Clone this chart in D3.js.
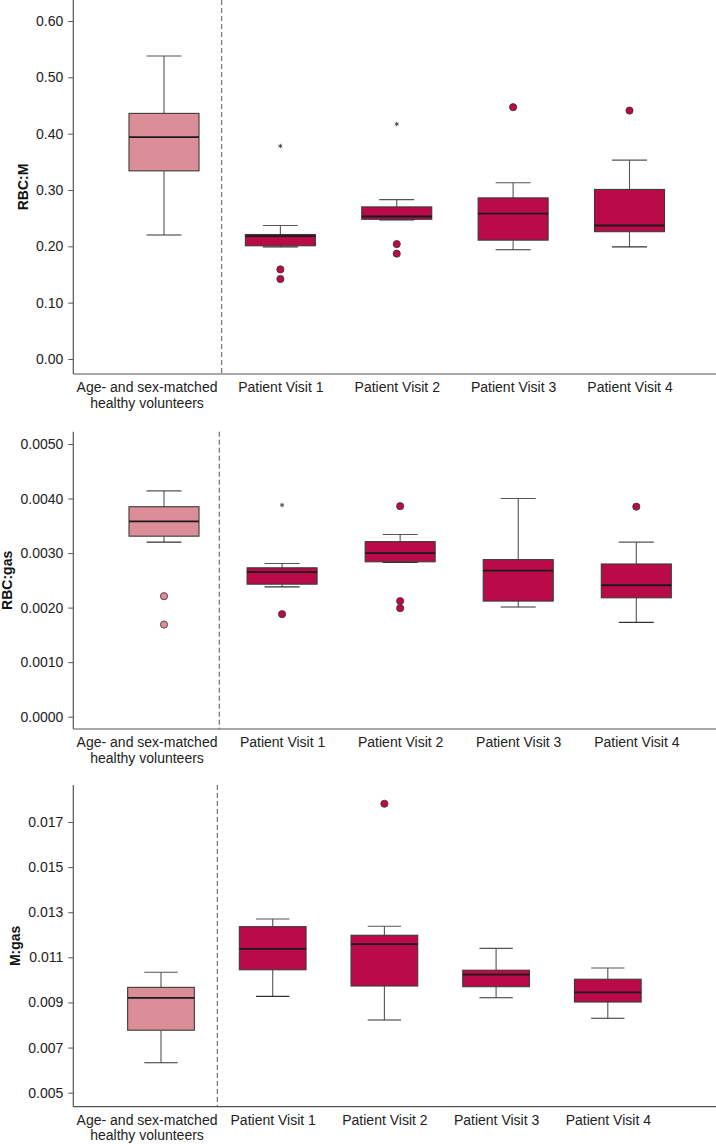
<!DOCTYPE html>
<html>
<head>
<meta charset="utf-8">
<script src="https://cdn.jsdelivr.net/npm/d3@7"></script>
<style>
  html, body { margin: 0; padding: 0; background: #fff; }
  svg { display: block; font-family: "Liberation Sans", Arial, Helvetica, sans-serif; }
</style>
</head>
<body>
<svg id="chart" width="716" height="1144"></svg>
<script>
// ---------- DATA ----------
const categories = ["Age- and sex-matched\nhealthy volunteers", "Patient Visit 1", "Patient Visit 2", "Patient Visit 3", "Patient Visit 4"];

// box stats per category: [lower whisker, Q1, median, Q3, upper whisker]
const rbcM_boxes = [
  [0.220, 0.334, 0.394, 0.436, 0.538],
  [0.199, 0.201, 0.218, 0.221, 0.237],
  [0.247, 0.248, 0.253, 0.270, 0.283],
  [0.194, 0.211, 0.258, 0.286, 0.313],
  [0.199, 0.226, 0.237, 0.301, 0.353]
];
const rbcM_outliers = [[], [0.159, 0.142], [0.204, 0.187], [0.447], [0.441]];
const rbcM_extremes = [[], [0.378], [0.417], [], []];
const rbcM_ticks = [0.00, 0.10, 0.20, 0.30, 0.40, 0.50, 0.60];

const rbcGas_boxes = [
  [0.00320, 0.00331, 0.00358, 0.00385, 0.00414],
  [0.00238, 0.00243, 0.00265, 0.00273, 0.00281],
  [0.00283, 0.00284, 0.00300, 0.00321, 0.00334],
  [0.00201, 0.00212, 0.00268, 0.00288, 0.00400],
  [0.00173, 0.00218, 0.00241, 0.00280, 0.00320]
];
const rbcGas_outliers = [[0.00221, 0.00169], [0.00188], [0.00386, 0.00212, 0.00199], [], [0.00385]];
const rbcGas_extremes = [[], [0.00388], [], [], []];
const rbcGas_ticks = [0.0000, 0.0010, 0.0020, 0.0030, 0.0040, 0.0050];

const mGas_boxes = [
  [0.00633, 0.00777, 0.00920, 0.00967, 0.01034],
  [0.00927, 0.01045, 0.01138, 0.01236, 0.01270],
  [0.00822, 0.00973, 0.01159, 0.01198, 0.01238],
  [0.00921, 0.00970, 0.01023, 0.01043, 0.01140],
  [0.00830, 0.00902, 0.00945, 0.01003, 0.01053]
];
const mGas_outliers = [[], [], [0.01781], [], []];
const mGas_extremes = [[], [], [], [], []];
const mGas_ticks = [0.005, 0.007, 0.009, 0.011, 0.013, 0.015, 0.017];

const yLabels = ["RBC:M", "RBC:gas", "M:gas"];
const tickFormats = [".2f", ".4f", ".3f"];

// ---------- STYLE / LAYOUT ----------
const colHealthy = "#DB8E98";
const colPatient = "#BA0A48";
const axisX = 73.3;
const rightX = 716;

const panels = [
  { boxes: rbcM_boxes, outliers: rbcM_outliers, extremes: rbcM_extremes, ticks: rbcM_ticks,
    label: yLabels[0], fmt: tickFormats[0],
    domain: [0, 0.6], range: [359, 21], top: 0, bottom: 374,
    xRange: [164, 629.5], dash: 221.7, boxW: 70 },
  { boxes: rbcGas_boxes, outliers: rbcGas_outliers, extremes: rbcGas_extremes, ticks: rbcGas_ticks,
    label: yLabels[1], fmt: tickFormats[1],
    domain: [0, 0.005], range: [716.7, 444], top: 431.7, bottom: 729,
    xRange: [164, 636.3], dash: 219.3, boxW: 70 },
  { boxes: mGas_boxes, outliers: mGas_outliers, extremes: mGas_extremes, ticks: mGas_ticks,
    label: yLabels[2], fmt: tickFormats[2],
    domain: [0.005, 0.017], range: [1092.7, 822], top: 785, bottom: 1106.7,
    xRange: [161, 607.8], dash: 217.3, boxW: 66.7 }
];

const svg = d3.select("#chart");

panels.forEach((p) => {
  const g = svg.append("g");
  const y = d3.scaleLinear().domain(p.domain).range(p.range);
  const x = d3.scalePoint().domain(categories).range(p.xRange);
  const color = (i) => i === 0 ? colHealthy : colPatient;

  // dashed separator
  g.append("line")
    .attr("x1", p.dash).attr("x2", p.dash)
    .attr("y1", p.top).attr("y2", p.bottom)
    .attr("stroke", "#555").attr("stroke-width", 1)
    .attr("stroke-dasharray", "5,3");

  // boxes
  categories.forEach((c, i) => {
    const [lo, q1, med, q3, hi] = p.boxes[i];
    const cx = x(c);
    const bw = p.boxW;
    const cap = bw / 2;
    const bg = g.append("g");
    // whiskers
    bg.append("line").attr("x1", cx).attr("x2", cx).attr("y1", y(hi)).attr("y2", y(q3))
      .attr("stroke", "#555").attr("stroke-width", 1.1);
    bg.append("line").attr("x1", cx).attr("x2", cx).attr("y1", y(q1)).attr("y2", y(lo))
      .attr("stroke", "#555").attr("stroke-width", 1.1);
    bg.append("line").attr("x1", cx - cap / 2).attr("x2", cx + cap / 2).attr("y1", y(hi)).attr("y2", y(hi))
      .attr("stroke", "#555").attr("stroke-width", 1.1);
    bg.append("line").attr("x1", cx - cap / 2).attr("x2", cx + cap / 2).attr("y1", y(lo)).attr("y2", y(lo))
      .attr("stroke", "#333").attr("stroke-width", 1.1);
    // box
    bg.append("rect")
      .attr("x", cx - bw / 2).attr("width", bw)
      .attr("y", y(q3)).attr("height", Math.max(0.5, y(q1) - y(q3)))
      .attr("fill", color(i)).attr("stroke", "#3a3a3a").attr("stroke-width", 1.1);
    // median
    bg.append("line").attr("x1", cx - bw / 2).attr("x2", cx + bw / 2).attr("y1", y(med)).attr("y2", y(med))
      .attr("stroke", "#1a1a1a").attr("stroke-width", 1.8);
    // outliers
    bg.selectAll("circle.o").data(p.outliers[i]).join("circle")
      .attr("class", "o")
      .attr("cx", cx).attr("cy", d => y(d)).attr("r", 3.6)
      .attr("fill", color(i)).attr("stroke", "#333").attr("stroke-width", 0.8);
    // extremes (asterisk)
    bg.selectAll("path.e").data(p.extremes[i]).join("path")
      .attr("class", "e")
      .attr("transform", d => `translate(${cx},${y(d)})`)
      .attr("d", d3.symbol().type(d3.symbolAsterisk).size(14))
      .attr("fill", "none").attr("stroke", "#444").attr("stroke-width", 0.9);
  });

  // y axis
  const yAxis = d3.axisLeft(y).tickValues(p.ticks).tickFormat(d3.format(p.fmt))
    .tickSize(5).tickPadding(5).tickSizeOuter(0);
  const ya = g.append("g").attr("transform", `translate(${axisX},0)`).call(yAxis);
  ya.select(".domain").remove();
  ya.selectAll(".tick line").attr("stroke", "#555");
  ya.selectAll(".tick text").attr("fill", "#222").style("font-size", "14px")
    .style("font-family", "'Liberation Sans', Arial, sans-serif");
  g.append("line").attr("x1", axisX).attr("x2", axisX).attr("y1", p.top).attr("y2", p.bottom)
    .attr("stroke", "#555").attr("stroke-width", 1.2);

  // x axis
  const xAxis = d3.axisBottom(x).tickSize(0).tickPadding(0);
  const xa = g.append("g").attr("transform", `translate(0,${p.bottom})`).call(xAxis);
  xa.select(".domain").remove();
  g.append("line").attr("x1", axisX).attr("x2", rightX).attr("y1", p.bottom).attr("y2", p.bottom)
    .attr("stroke", "#555").attr("stroke-width", 1.2);
  xa.selectAll(".tick text").each(function (d) {
    const t = d3.select(this);
    const lines = d.split("\n");
    t.text(null).attr("y", 0).attr("dy", null)
      .attr("fill", "#222").style("font-size", "14px")
      .style("font-family", "'Liberation Sans', Arial, sans-serif");
    lines.forEach((ln, k) => {
      t.append("tspan").attr("x", 0).attr("y", 18 + k * 15.5).text(ln);
    });
  });
  // first (two-line) label sits against the y axis
  xa.selectAll(".tick").filter((d, i) => i === 0).each(function (d) {
    const bb = this.querySelector("text").getBBox();
    const wantCenter = axisX + 2.8 + bb.width / 2;
    d3.select(this).select("text").attr("transform", `translate(${wantCenter - x(d)},0)`);
  });

  // y label
  const yaBB = ya.node().getBBox();
  const labelX = axisX + yaBB.x - 13.5;
  g.append("text")
    .attr("transform", `translate(${labelX},${(p.top + p.bottom) / 2}) rotate(-90)`)
    .attr("text-anchor", "middle").attr("dy", "0.36em")
    .style("font-size", "14px").style("font-weight", "bold")
    .style("font-family", "'Liberation Sans', Arial, sans-serif")
    .attr("fill", "#111")
    .text(p.label);
});
</script>
</body>
</html>
